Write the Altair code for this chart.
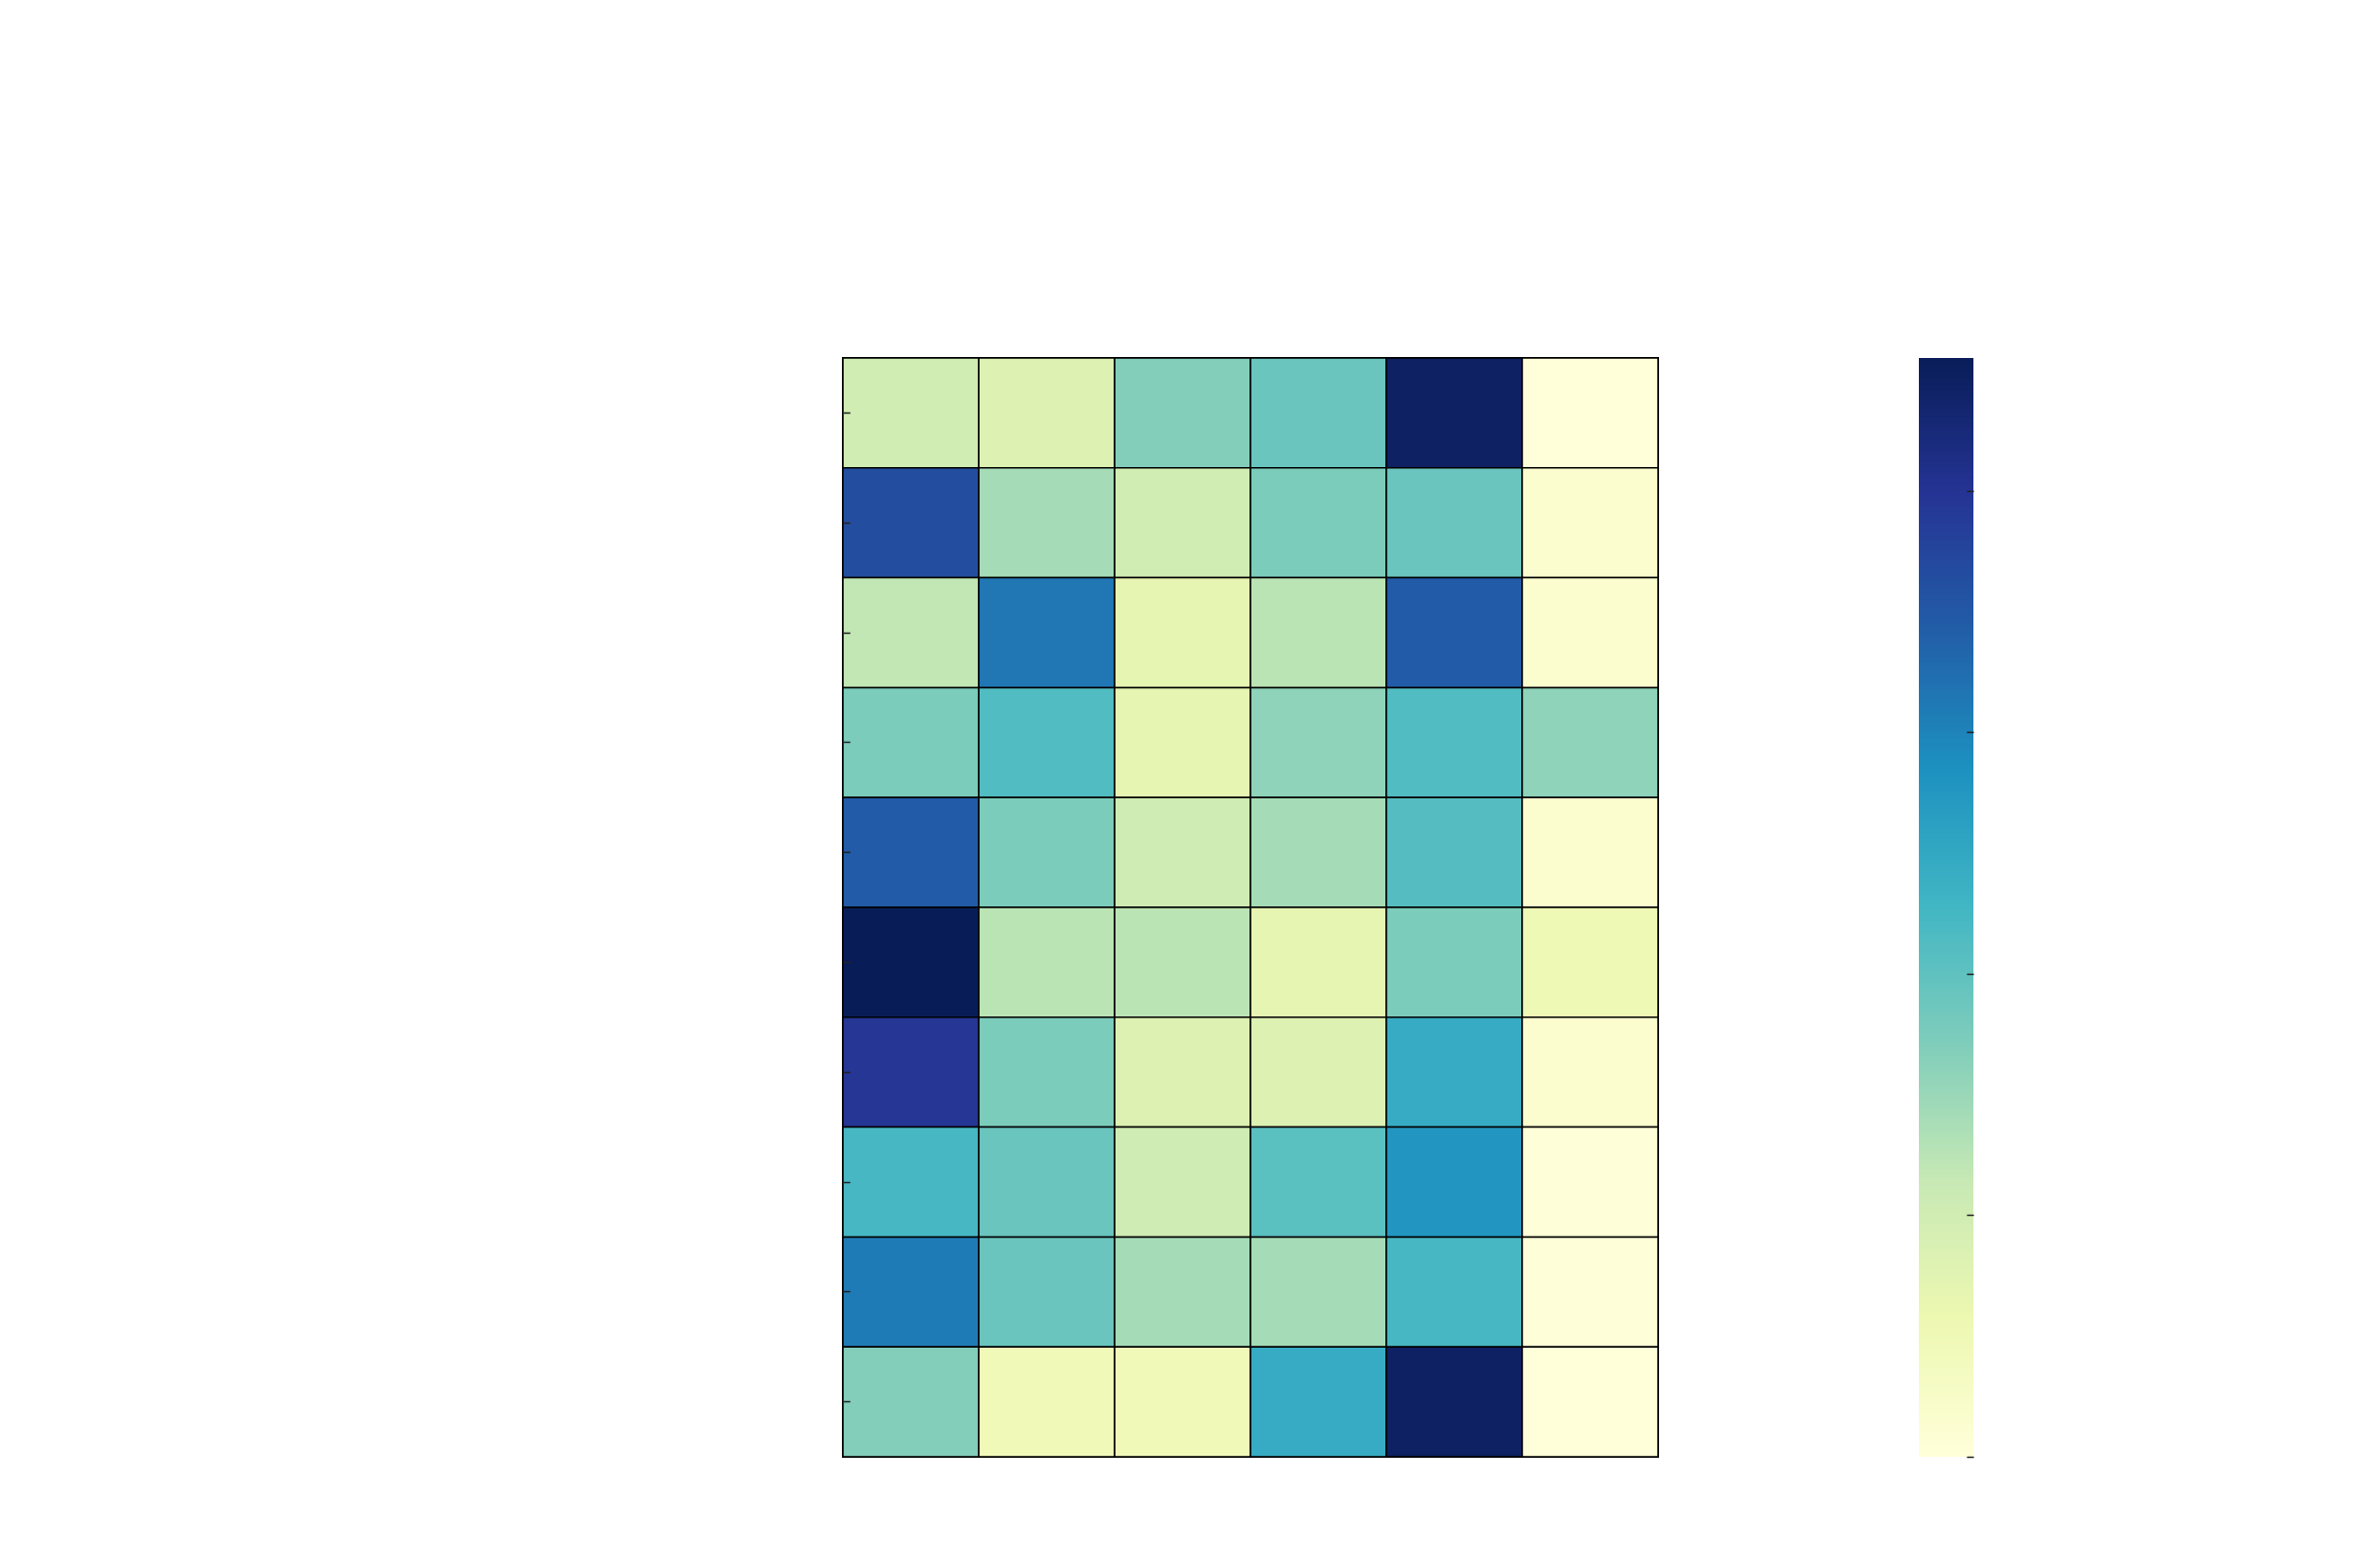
import altair as alt
import pandas as pd
import numpy as np

rows = ["R1", "R2", "R3", "R4", "R5", "R6", "R7", "R8", "R9", "R10"]
cols = ["C1", "C2", "C3", "C4", "C5", "C6"]
values = [
    [1.00, 0.82, 1.68, 1.91, 4.45, 0.00],
    [3.63, 1.41, 1.00, 1.73, 1.91, 0.14],
    [1.18, 3.13, 0.68, 1.23, 3.45, 0.14],
    [1.73, 2.13, 0.68, 1.59, 2.13, 1.59],
    [3.45, 1.73, 1.04, 1.41, 2.09, 0.14],
    [4.55, 1.23, 1.23, 0.68, 1.73, 0.50],
    [3.95, 1.73, 0.82, 0.82, 2.45, 0.14],
    [2.22, 1.91, 1.04, 2.04, 2.77, 0.02],
    [3.09, 1.91, 1.41, 1.41, 2.22, 0.02],
    [1.68, 0.45, 0.45, 2.45, 4.45, 0.00],
]
cbar_ticks = [0, 1, 2, 3, 4]
ylgnbu = ["#ffffd9", "#edf8b1", "#c7e9b4", "#7fcdbb", "#41b6c4",
          "#1d91c0", "#225ea8", "#253494", "#081d58"]

vmin = 0.0
vmax = max(max(r) for r in values)

df = pd.DataFrame(
    [{"row": rows[i], "col": cols[j], "value": values[i][j]}
     for i in range(len(rows)) for j in range(len(cols))]
)

color_scale = alt.Scale(domain=[vmin, vmax], range=ylgnbu, interpolate="rgb")

heat = alt.Chart(df).mark_rect(stroke="black", strokeWidth=1.5).encode(
    x=alt.X("col:N", sort=cols, axis=None),
    y=alt.Y("row:N", sort=rows,
            axis=alt.Axis(labels=False, title=None, domain=False, ticks=True,
                          tickSize=7, offset=-7, tickColor="#222222", tickWidth=1.5,
                          zindex=1)),
    color=alt.Color("value:Q", scale=color_scale, legend=None),
).properties(width=822, height=1108,
             view=alt.ViewBackground(stroke="black", strokeWidth=2))

step = 0.01
ramp_vals = np.arange(vmin, vmax, step)
ramp = pd.DataFrame({"v": ramp_vals, "v2": np.minimum(ramp_vals + step * 1.6, vmax)})

cbar = alt.Chart(ramp).mark_rect(strokeWidth=0).encode(
    x=alt.value(0), x2=alt.value(55),
    y=alt.Y("v:Q", scale=alt.Scale(domain=[vmin, vmax], nice=False, zero=False),
            axis=alt.Axis(orient="right", labels=False, title=None, domain=False,
                          values=cbar_ticks, tickSize=7, offset=-7,
                          tickColor="#222222", tickWidth=1.5, grid=False, zindex=1)),
    y2="v2:Q",
    color=alt.Color("v:Q", scale=color_scale, legend=None),
).properties(width=55, height=1108, view=alt.ViewBackground(stroke=None))

chart = alt.hconcat(heat, cbar, spacing=261).resolve_scale(color="independent").properties(
    padding={"left": 840, "top": 351, "right": 5, "bottom": 5}
).configure(background="white")

chart.save("out.html", embed_options={"renderer": "svg", "actions": False})
